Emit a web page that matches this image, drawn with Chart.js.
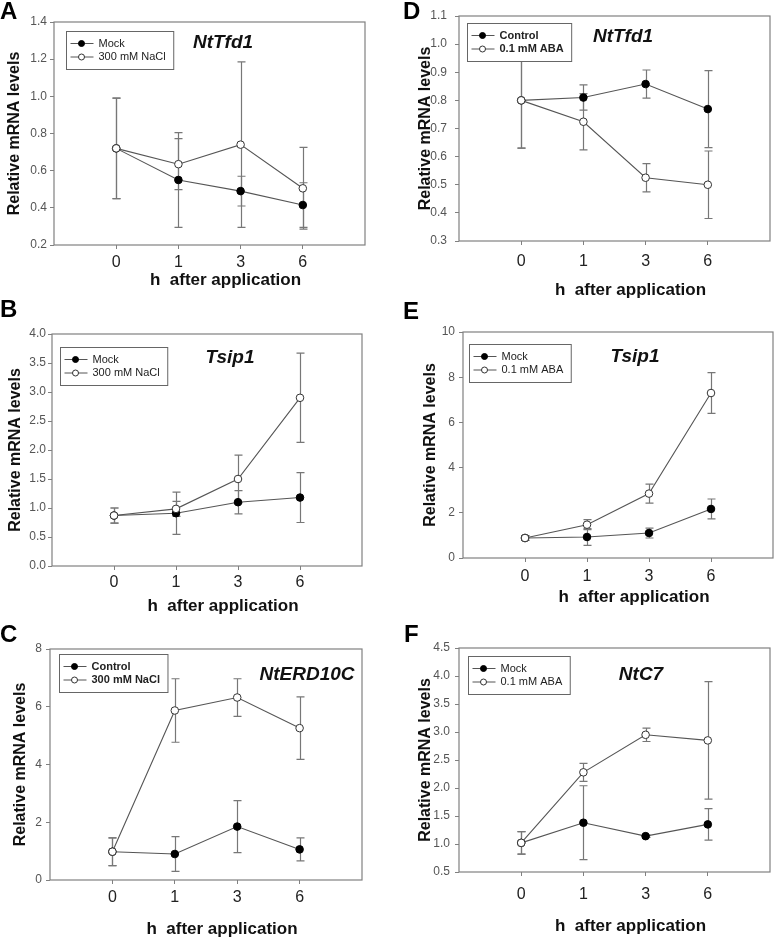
<!DOCTYPE html>
<html>
<head>
<meta charset="utf-8">
<script src="https://cdn.jsdelivr.net/npm/chart.js@4.4.1/dist/chart.umd.min.js"></script>
<style>
  body { margin: 0; background: #fff; }
  #wrap { position: relative; width: 780px; height: 941px; overflow: hidden; }
  canvas { position: absolute; }
  .lbl { position: absolute; font: bold 24px Arial, 'Liberation Sans', sans-serif; line-height: 24px; color: #000; }
</style>
</head>
<body>
<div id="wrap">
  <canvas id="cA" width="390" height="300" style="left:0;top:0"></canvas>
  <canvas id="cD" width="390" height="300" style="left:390px;top:0"></canvas>
  <canvas id="cB" width="390" height="316" style="left:0;top:300px"></canvas>
  <canvas id="cE" width="390" height="316" style="left:390px;top:300px"></canvas>
  <canvas id="cC" width="390" height="325" style="left:0;top:616px"></canvas>
  <canvas id="cF" width="390" height="325" style="left:390px;top:616px"></canvas>
  <div class="lbl" style="left:0;top:-1px">A</div>
  <div class="lbl" style="left:403px;top:-1px">D</div>
  <div class="lbl" style="left:0;top:297px">B</div>
  <div class="lbl" style="left:403px;top:299px">E</div>
  <div class="lbl" style="left:0;top:622px">C</div>
  <div class="lbl" style="left:404px;top:622px">F</div>
</div>
<script>
const FONT = "Arial, 'Liberation Sans', sans-serif";
Chart.defaults.font.family = FONT;

// time points (h after application)
const hours = ['0', '1', '3', '6'];

// A: NtTfd1, salt
const aMock = [0.72, 0.55, 0.49, 0.415];
const aMockErr = [0.27, 0.255, 0.08, 0.12];
const aNaCl = [0.72, 0.635, 0.74, 0.505];
const aNaClErr = [0.27, 0.137, 0.445, 0.22];

// B: Tsip1, salt
const bMock = [0.87, 0.91, 1.10, 1.18];
const bMockErr = [0.13, 0.365, 0.20, 0.43];
const bNaCl = [0.87, 0.985, 1.50, 2.90];
const bNaClErr = [0.13, 0.13, 0.41, 0.77];

// C: NtERD10C, salt
const cControl = [0.98, 0.90, 1.85, 1.06];
const cControlErr = [0.48, 0.60, 0.90, 0.40];
const cNaCl = [0.98, 5.87, 6.32, 5.26];
const cNaClErr = [0.48, 1.10, 0.65, 1.08];

// D: NtTfd1, ABA
const dControl = [0.80, 0.81, 0.858, 0.769];
const dControlErr = [0.17, 0.045, 0.05, 0.137];
const dAba = [0.80, 0.724, 0.525, 0.50];
const dAbaErr = [0.17, 0.10, 0.05, 0.12];

// E: Tsip1, ABA
const eMock = [0.885, 0.93, 1.106, 2.17];
const eMockErr = [0.10, 0.37, 0.22, 0.44];
const eAba = [0.885, 1.475, 2.85, 7.30];
const eAbaErr = [0.10, 0.22, 0.42, 0.90];

// F: NtC7, ABA
const fMock = [1.02, 1.38, 1.14, 1.35];
const fMockErr = [0.20, 0.66, 0.02, 0.28];
const fAba = [1.02, 2.28, 2.95, 2.85];
const fAbaErr = [0.20, 0.16, 0.12, 1.05];

// panel layout (plot = left, top, right, bottom in page pixels)
const panels = [
  { id: 'cA', x0: 0, y0: 0, h: 300, plot: [54, 22, 365, 245], yMin: 0.2, yMax: 1.4, yStep: 0.2, dec: 1,
    yPad: 3, yTitlePad: 5, xPad: 4.4, xTitleDy: 35, gene: 'NtTfd1', geneDx: 169, geneDy: 21,
    legBold: false, legDx: 12, legDy: 9,
    series: [{ label: 'Mock', data: aMock, err: aMockErr, open: false },
             { label: '300 mM NaCl', data: aNaCl, err: aNaClErr, open: true }] },
  { id: 'cD', x0: 390, y0: 0, h: 300, plot: [459, 16, 770, 241], yMin: 0.3, yMax: 1.1, yStep: 0.1, dec: 1,
    yPad: 8, yTitlePad: 26, xPad: 7.4, xTitleDy: 49, gene: 'NtTfd1', geneDx: 164, geneDy: 21,
    legBold: true, legDx: 8, legDy: 7,
    series: [{ label: 'Control', data: dControl, err: dControlErr, open: false },
             { label: '0.1 mM ABA', data: dAba, err: dAbaErr, open: true }] },
  { id: 'cB', x0: 0, y0: 300, h: 316, plot: [52, 334, 362, 566], yMin: 0, yMax: 4, yStep: 0.5, dec: 1,
    yPad: 2, yTitlePad: 6, xPad: 2.8, xTitleDy: 40, gene: 'Tsip1', geneDx: 178, geneDy: 24,
    legBold: false, legDx: 8, legDy: 13,
    series: [{ label: 'Mock', data: bMock, err: bMockErr, open: false },
             { label: '300 mM NaCl', data: bNaCl, err: bNaClErr, open: true }] },
  { id: 'cE', x0: 390, y0: 300, h: 316, plot: [463, 332, 773, 558], yMin: 0, yMax: 10, yStep: 2, dec: 0,
    yPad: 4, yTitlePad: 31, xPad: 5, xTitleDy: 39, gene: 'Tsip1', geneDx: 172, geneDy: 25,
    legBold: false, legDx: 6, legDy: 12,
    series: [{ label: 'Mock', data: eMock, err: eMockErr, open: false },
             { label: '0.1 mM ABA', data: eAba, err: eAbaErr, open: true }] },
  { id: 'cC', x0: 0, y0: 616, h: 325, plot: [50, 649, 362, 880], yMin: 0, yMax: 8, yStep: 2, dec: 0,
    yPad: 4, yTitlePad: 11, xPad: 4.4, xTitleDy: 49, gene: 'NtERD10C', geneDx: 257, geneDy: 26,
    legBold: true, legDx: 9, legDy: 5,
    series: [{ label: 'Control', data: cControl, err: cControlErr, open: false },
             { label: '300 mM NaCl', data: cNaCl, err: cNaClErr, open: true }] },
  { id: 'cF', x0: 390, y0: 616, h: 325, plot: [459, 648, 770, 872], yMin: 0.5, yMax: 4.5, yStep: 0.5, dec: 1,
    yPad: 5, yTitlePad: 26, xPad: 9.4, xTitleDy: 54, gene: 'NtC7', geneDx: 182, geneDy: 27,
    legBold: false, legDx: 9, legDy: 8,
    series: [{ label: 'Mock', data: fMock, err: fMockErr, open: false },
             { label: '0.1 mM ABA', data: fAba, err: fAbaErr, open: true }] }
];

// error bars, frame, gene name, legend, x title
function makePlugin(p) {
  return {
    id: 'panel',
    beforeDatasetsDraw(chart) {
      const ctx = chart.ctx, ys = chart.scales.y;
      ctx.save();
      ctx.strokeStyle = '#777';
      ctx.lineWidth = 1.2;
      chart.data.datasets.forEach((ds, i) => {
        chart.getDatasetMeta(i).data.forEach((pt, k) => {
          const v = ds.data[k].y, e = ds.errors[k];
          const x = Math.round(pt.x) + 0.5;
          const y1 = ys.getPixelForValue(v + e), y2 = ys.getPixelForValue(v - e);
          ctx.beginPath();
          ctx.moveTo(x, y1); ctx.lineTo(x, y2);
          ctx.moveTo(x - 4, y1); ctx.lineTo(x + 4, y1);
          ctx.moveTo(x - 4, y2); ctx.lineTo(x + 4, y2);
          ctx.stroke();
        });
      });
      ctx.restore();
    },
    afterDraw(chart) {
      const ctx = chart.ctx;
      const { left, top, right, bottom } = chart.chartArea;
      ctx.save();
      ctx.strokeStyle = '#808080';
      ctx.lineWidth = 1.2;
      ctx.strokeRect(left, top, right - left, bottom - top);

      ctx.fillStyle = '#111';
      ctx.textAlign = 'center';
      ctx.textBaseline = 'middle';
      ctx.font = `italic bold 19px ${FONT}`;
      ctx.fillText(p.gene, left + p.geneDx, top + p.geneDy);
      ctx.font = `bold 17px ${FONT}`;
      ctx.fillText('h  after application', (left + right) / 2 + 16, bottom + p.xTitleDy);

      // legend box
      ctx.font = `${p.legBold ? 'bold ' : ''}11px ${FONT}`;
      const tw = Math.max(...p.series.map(s => ctx.measureText(s.label).width));
      const bx = Math.round(left + p.legDx) + 0.5, by = Math.round(top + p.legDy) + 0.5;
      const bw = 33 + tw + 7, bh = 38;
      ctx.fillStyle = '#fff';
      ctx.fillRect(bx, by, bw, bh);
      ctx.strokeStyle = '#666';
      ctx.lineWidth = 1;
      ctx.strokeRect(bx, by, bw, bh);
      p.series.forEach((s, i) => {
        const yy = by + 12 + i * 13.5;
        ctx.strokeStyle = '#555';
        ctx.beginPath(); ctx.moveTo(bx + 4, yy); ctx.lineTo(bx + 27, yy); ctx.stroke();
        ctx.beginPath(); ctx.arc(bx + 15, yy, 3, 0, Math.PI * 2);
        ctx.fillStyle = s.open ? '#fff' : '#000';
        ctx.fill();
        ctx.strokeStyle = s.open ? '#333' : '#000';
        ctx.stroke();
        ctx.fillStyle = '#222';
        ctx.textAlign = 'left';
        ctx.fillText(s.label, bx + 32, yy);
      });
      ctx.restore();
    }
  };
}

panels.forEach(p => {
  const [l, t, r, b] = p.plot;
  new Chart(document.getElementById(p.id), {
    type: 'line',
    data: {
      datasets: p.series.map(s => ({
        label: s.label,
        data: s.data.map((v, k) => ({ x: k, y: v })),
        errors: s.err,
        order: s.open ? 0 : 1,
        borderColor: '#555',
        borderWidth: 1.1,
        pointRadius: 3.8,
        pointHoverRadius: 3.8,
        pointBackgroundColor: s.open ? '#fff' : '#000',
        pointBorderColor: s.open ? '#333' : '#000',
        pointBorderWidth: 1,
        tension: 0,
        fill: false
      }))
    },
    options: {
      responsive: false,
      animation: false,
      events: [],
      layout: { padding: { left: 0, top: t - p.y0, right: p.x0 + 390 - r, bottom: 0 } },
      plugins: { legend: { display: false }, tooltip: { enabled: false } },
      scales: {
        x: {
          type: 'linear', min: -1, max: 4,
          afterFit: s => { s.height = p.y0 + p.h - b; },
          afterBuildTicks: s => { s.ticks = hours.map((h, k) => ({ value: k })); },
          grid: { drawOnChartArea: false, drawTicks: true, tickLength: 4, color: '#808080' },
          border: { display: false },
          ticks: { padding: p.xPad, font: { size: 16 }, color: '#222', callback: v => hours[v] }
        },
        y: {
          min: p.yMin, max: p.yMax,
          afterFit: s => { s.width = l - p.x0; },
          grid: { drawOnChartArea: false, drawTicks: true, tickLength: 4, color: '#808080' },
          border: { display: false },
          ticks: { stepSize: p.yStep, padding: p.yPad, font: { size: 12 }, color: '#555',
                   callback: v => Number(v).toFixed(p.dec) },
          title: { display: true, text: 'Relative mRNA levels', color: '#111',
                   font: { size: 16, weight: 'bold' }, padding: { top: p.yTitlePad, bottom: 0 } }
        }
      }
    },
    plugins: [makePlugin(p)]
  });
});
</script>
</body>
</html>
